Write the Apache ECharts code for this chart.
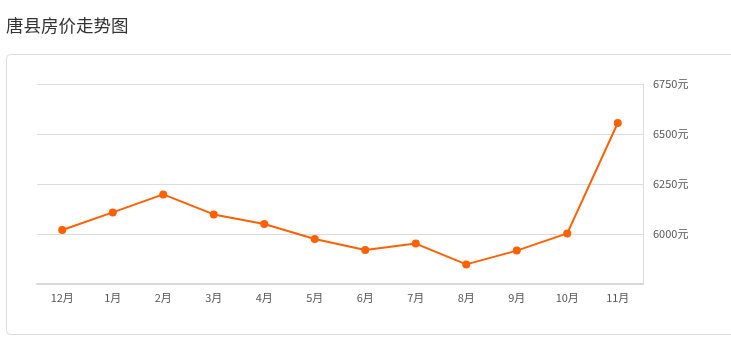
<!DOCTYPE html>
<html><head><meta charset="utf-8">
<script src="https://cdn.jsdelivr.net/npm/echarts@6/dist/echarts.min.js"></script>
<style>html,body{margin:0;padding:0;background:#fff;}#c{width:731px;height:342px;}</style>
</head><body><div id="c"></div>
<script>
const titleText = '唐县房价走势图';
const months = ['12月','1月','2月','3月','4月','5月','6月','7月','8月','9月','10月','11月'];
const prices = [6020, 6108, 6198, 6098, 6050, 5975, 5920, 5952, 5848, 5917, 6003, 6555];
const yMin = 5750, yMax = 6750, yStep = 250;

const chart = echarts.init(document.getElementById('c'), null, {renderer:'canvas'});
chart.setOption({
  animation:false,
  title:{text:titleText,left:1,top:12,textStyle:{fontSize:17.5,fontWeight:'normal',color:'#333',fontFamily:'"Noto Sans CJK SC", sans-serif'}},
  graphic:[{type:'rect',shape:{x:6.5,y:54.5,width:740,height:280,r:4},style:{fill:'none',stroke:'#dcdcdc',lineWidth:1},silent:true,z:-1}],
  grid:{left:37,right:88,top:84,bottom:58},
  xAxis:{type:'category',data:months,boundaryGap:true,
    axisLine:{lineStyle:{color:'#d9d9d9',width:2}},
    axisTick:{alignWithLabel:true,length:3,lineStyle:{color:'#d9d9d9'}},
    axisLabel:{color:'#555',fontSize:11,margin:8,fontFamily:'"Noto Sans CJK SC", sans-serif'}},
  yAxis:{type:'value',position:'right',min:yMin,max:yMax,interval:yStep,
    axisLine:{show:true,lineStyle:{color:'#dcdcdc'}},
    axisTick:{show:false},
    splitLine:{lineStyle:{color:'#dcdcdc'}},
    axisLabel:{color:'#555',fontSize:11,margin:10,showMinLabel:false,
      formatter:v=>v+'元',fontFamily:'"Noto Sans CJK SC", sans-serif'}},
  series:[{type:'line',data:prices,symbol:'circle',symbolSize:8,
    itemStyle:{color:'#ff6000'},lineStyle:{color:'#ff6000',width:2}}]
});
</script></body></html>
